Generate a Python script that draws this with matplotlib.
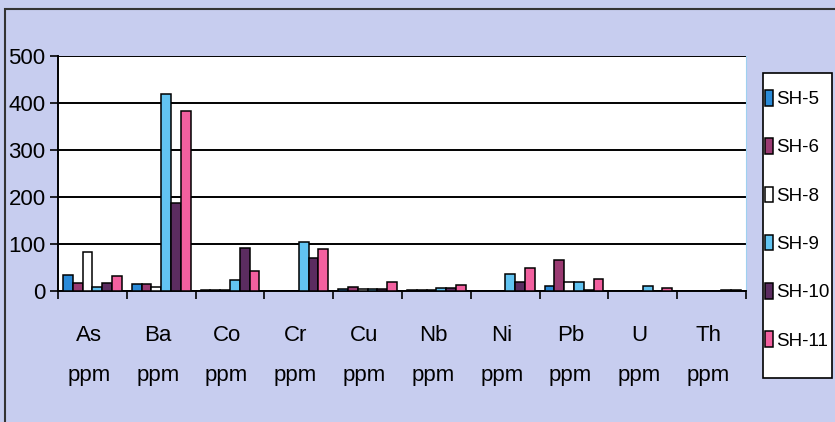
import numpy as np
import matplotlib
matplotlib.use("Agg")
import matplotlib.pyplot as plt
from matplotlib.patches import Rectangle

plt.rcParams['font.family'] = ['Liberation Sans Narrow', 'Liberation Sans', 'DejaVu Sans']

# Elements (ppm) and sample series
elements = ["As", "Ba", "Co", "Cr", "Cu", "Nb", "Ni", "Pb", "U", "Th"]
samples = ["SH-5", "SH-6", "SH-8", "SH-9", "SH-10", "SH-11"]

sh5 = [35, 14, 3, 0, 4, 3, 0, 10, 0, 0]
sh6 = [18, 14, 3, 0, 8, 3, 0, 67, 0, 0]
sh8 = [82, 8, 2, 0, 4, 3, 0, 19, 0, 0]
sh9 = [8, 420, 23, 104, 4, 7, 36, 19, 11, 0]
sh10 = [18, 188, 92, 70, 4, 7, 20, 3, 0, 3]
sh11 = [32, 382, 42, 90, 19, 12, 49, 26, 6, 2]

colors = ["#2a8ad8", "#9a3a72", "#ffffff", "#62c4f2", "#5b2c60", "#f2609f"]
series = [sh5, sh6, sh8, sh9, sh10, sh11]

fig = plt.figure(figsize=(8.35, 4.22), dpi=100)
fig.patch.set_facecolor("#c7cdef")
ax = fig.add_axes([58 / 835, 1 - 291 / 422, 688 / 835, 235 / 422])
ax.set_facecolor("white")

# outer frame of the scanned chart
fig.patches.append(Rectangle((5 / 835, -0.01), 1.0, 1 - 9 / 422 + 0.01,
                             transform=fig.transFigure, fill=False,
                             edgecolor="#333333", linewidth=1.5, zorder=-2))
# legend box, behind the legend entries
fig.patches.append(Rectangle((763 / 835, 1 - 378 / 422), 69 / 835, 305 / 422,
                             transform=fig.transFigure, facecolor="white",
                             edgecolor="black", linewidth=1.2, zorder=-1))

x = np.arange(len(elements))
w = 0.142
for i, (vals, c, name) in enumerate(zip(series, colors, samples)):
    ax.bar(x - 2.5 * w + i * w, vals, w, color=c, edgecolor="black",
           linewidth=1.1, label=name, zorder=3)

ax.set_xlim(-0.5, len(elements) - 0.5)
ax.set_ylim(0, 500)
ax.set_yticks(range(0, 501, 100))
ax.yaxis.grid(True, color="black", linewidth=1.4, zorder=0)
ax.set_axisbelow(True)
ax.tick_params(axis="y", labelsize=16, length=6, width=1.2, pad=3)

ax.set_xticks(np.arange(-0.5, len(elements), 1))
ax.set_xticklabels([])
ax.tick_params(axis="x", length=6, width=1.2, direction="out")
for xi, el in zip(x, elements):
    ax.text(xi - 0.05, -0.19, el, transform=ax.get_xaxis_transform(),
            ha="center", va="center", fontsize=16)
    ax.text(xi - 0.05, -0.36, "ppm", transform=ax.get_xaxis_transform(),
            ha="center", va="center", fontsize=16)

for s in ["left", "bottom"]:
    ax.spines[s].set_linewidth(1.4)
ax.spines["top"].set_visible(False)
ax.spines["right"].set_color("#9fd0f0")

leg = ax.legend(loc="upper left", bbox_to_anchor=(765 / 835, 1 - 90 / 422),
                bbox_transform=fig.transFigure, fontsize=13.5,
                frameon=False, handlelength=0.45, handleheight=0.9,
                handletextpad=0.15, labelspacing=1.6,
                borderaxespad=0, borderpad=0.0)

fig.savefig("out.png", dpi=100, facecolor=fig.get_facecolor())
